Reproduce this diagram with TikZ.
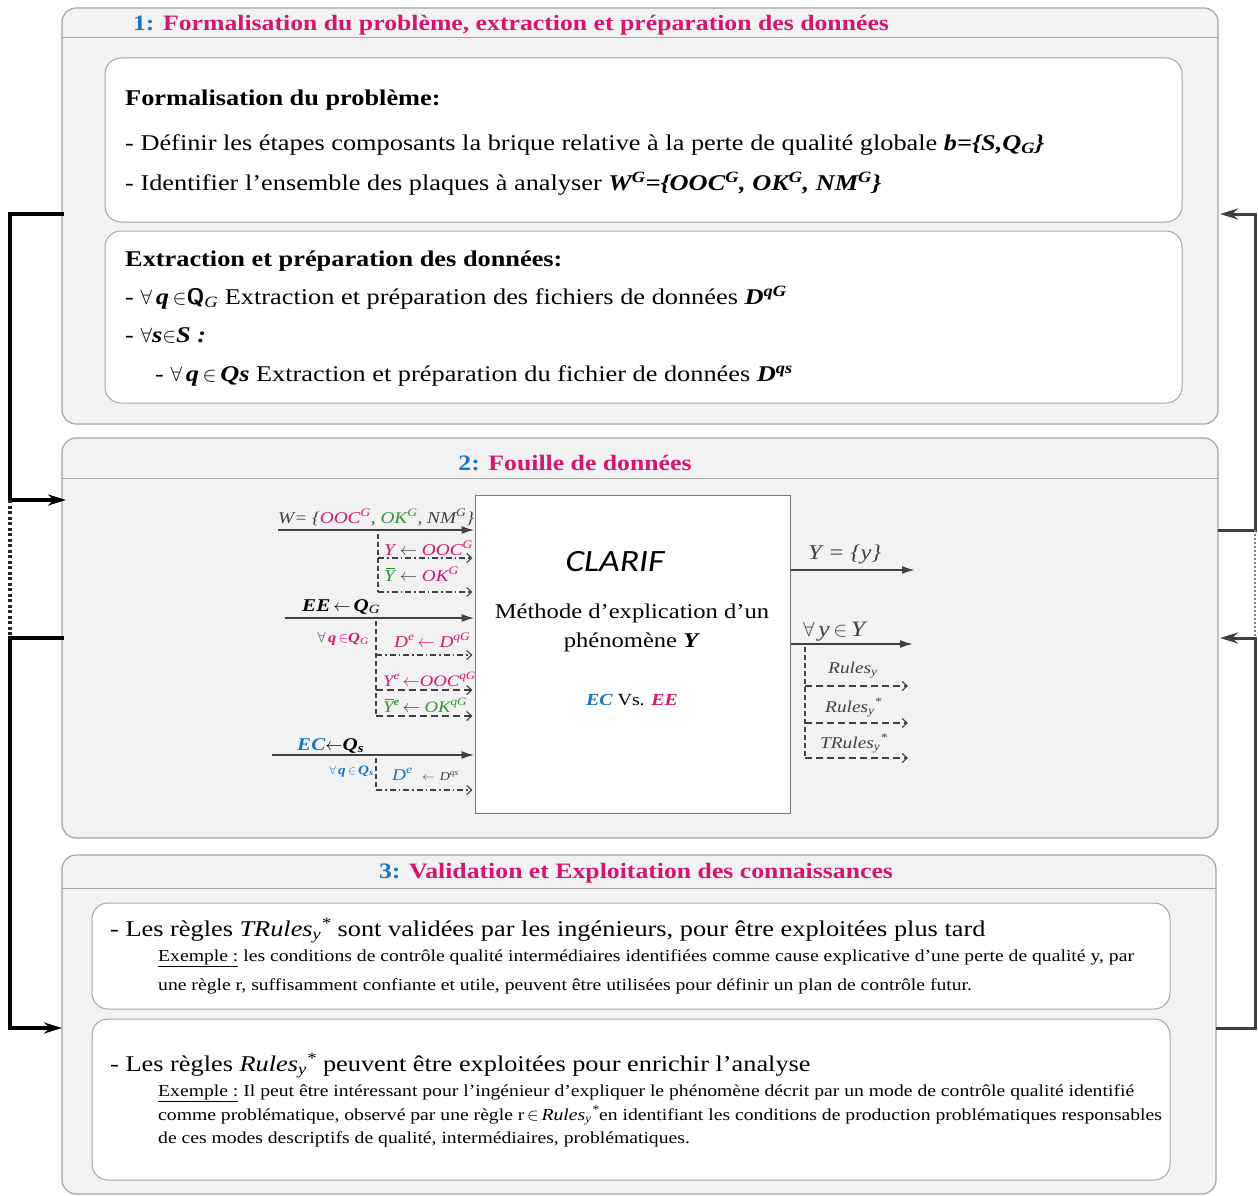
\documentclass[tikz,border=0pt]{standalone}
\usepackage{fontspec}
\setmainfont{Liberation Serif}[FakeStretch=1.17]
\newfontfamily\clariffont{Carlito}[FakeStretch=1.15]
\usetikzlibrary{arrows.meta}
\definecolor{rose}{RGB}{214,22,110}
\definecolor{bleu}{RGB}{28,117,196}
\definecolor{vert}{RGB}{48,150,48}
\definecolor{fond}{RGB}{242,242,242}
\definecolor{bord}{RGB}{165,165,165}
\definecolor{trait}{RGB}{64,64,64}
\newcommand{\pourtout}{$\forall$}
\newcommand{\dans}{$\in$}
\newcommand{\recoit}{$\leftarrow$}
\newcommand{\ybarre}{\leavevmode\rlap{\hspace{0.12em}\raisebox{0.74em}{\rule{0.55em}{0.07em}}}\textit{Y}}
\newcommand{\expo}[1]{\textsuperscript{#1}}
\newcommand{\indice}[1]{\textsubscript{#1}}
\newcommand{\indexpo}[2]{\textsubscript{#1}\textsuperscript{#2}}

\begin{document}
\begin{tikzpicture}[x=1pt,y=-1pt,
  panneau/.style={fill=fond,draw=bord,line width=1.2pt,rounded corners=14pt},
  cadre/.style={fill=white,draw=bord,line width=1pt,rounded corners=16pt},
  entete/.style={draw=bord,line width=1pt},
  titre/.style={anchor=base,inner sep=0pt,font=\fontsize{22}{26}\selectfont\bfseries,text=rose},
  texte/.style={anchor=base west,inner sep=0pt,font=\fontsize{22.5}{26}\selectfont},
  grand/.style={anchor=base west,inner sep=0pt,font=\fontsize{22.5}{26}\selectfont},
  petit/.style={anchor=base west,inner sep=0pt,font=\fontsize{16.8}{20}\selectfont},
  etiq/.style={anchor=base west,inner sep=0pt,font=\fontsize{16.5}{20}\selectfont\itshape,text=trait},
  flux/.style={draw=trait,line width=2pt,-{Latex[length=13pt,width=8pt]}},
  branche/.style={draw=trait,line width=1.1pt,dash pattern=on 5pt off 3pt},
  pointille/.style={draw=trait,line width=1.1pt,dash pattern=on 6pt off 3pt on 1.5pt off 3pt,-{Straight Barb[length=5pt,width=9pt]},shorten >=2pt},
  tiret/.style={draw=trait,line width=1.1pt,dash pattern=on 7pt off 4pt,-{Straight Barb[length=5pt,width=9pt]},shorten >=2pt},
  retour/.style={line width=3.5pt,-{Stealth[length=18pt,width=11pt]}},
  liaison/.style={draw=black!85,line width=3.5pt,dash pattern=on 3pt off 2.5pt},
]
\useasboundingbox (0,0) rectangle (1258,1196);
\clip (0,0) rectangle (1258,1196);

\draw[panneau] (62,8) rectangle (1218,424);
\draw[entete] (62,38) -- (1218,38);
\node[titre] (t1) at (511,31) {\textcolor{bleu}{1:} Formalisation du problème, extraction et préparation des données};
\draw[cadre] (105,58) rectangle (1182,222);
\node[texte,font=\fontsize{22.5}{26}\selectfont\bfseries] (fa) at (125,106) {Formalisation du problème:};
\node[texte] (fb) at (125,150) {- Définir les étapes composants la brique relative à la perte de qualité globale \textbf{\textit{b=\{S,Q\indice{G}\}}}};
\node[texte] (fc) at (125,190) {- Identifier l’ensemble des plaques à analyser \textbf{\textit{W\expo{G}=\{OOC\expo{G}, OK\expo{G}, NM\expo{G}\}}}};
\draw[cadre] (105,231) rectangle (1182,403);
\node[texte,font=\fontsize{22.5}{26}\selectfont\bfseries] (ea) at (125,266) {Extraction et préparation des données:};
\node[texte] (eb) at (125,304) {- \pourtout\,\textbf{\textit{q}}\,\dans\textbf{\textsf{Q}}\indice{\textit{G}} Extraction et préparation des fichiers de données \textbf{\textit{D\expo{qG}}}};
\node[texte] (ec) at (125,342) {- \pourtout\textbf{\textit{s}}\dans\textbf{\textit{S :}}};
\node[texte] (ed) at (155,381) {- \pourtout\,\textbf{\textit{q}}\,\dans\,\textbf{\textit{Qs}} Extraction et préparation du fichier de données \textbf{\textit{D\expo{qs}}}};

\draw[panneau] (62,438) rectangle (1218,838);
\draw[entete] (62,478) -- (1218,478);
\node[titre] (t2) at (575,470) {\textcolor{bleu}{2:} Fouille de données};
\node[draw=trait!70,fill=white,line width=1pt,minimum width=315pt,minimum height=318pt,inner sep=0pt] (clarif) at (632.5,654) {};
\node[anchor=base,font=\fontsize{31}{36}\selectfont\clariffont\itshape] (nom) at (615,571) {CLARIF};
\node[anchor=base,font=\fontsize{21}{25}\selectfont] (meth1) at (632,618) {Méthode d’explication d’un};
\node[anchor=base,font=\fontsize{21}{25}\selectfont] (meth2) at (632,647) {phénomène \textbf{\textit{Y}}};
\node[anchor=base,font=\fontsize{17}{21}\selectfont] (vs) at (632,705) {\textbf{\textit{\textcolor{bleu}{EC}}} Vs. \textbf{\textit{\textcolor{rose}{EE}}}};

\coordinate (w0) at (278,530);
\draw[flux] (w0) -- (w0 -| clarif.west);
\node[etiq] (lw) at (278,523) {W= \{\textcolor{rose}{OOC\expo{G}}, \textcolor{vert}{OK\expo{G}}, NM\expo{G}\}};
\coordinate (b1) at (378,534);
\coordinate (r1) at (378,558);
\coordinate (r2) at (378,592);
\draw[branche] (b1) -- (r2);
\draw[pointille] (r1) -- (r1 -| clarif.west);
\draw[pointille] (r2) -- (r2 -| clarif.west);
\node[etiq] (l1) at (384,555) {\textcolor{rose}{Y} \recoit\ \textcolor{rose}{OOC\expo{G}}};
\node[etiq] (l2) at (384,581) {\textcolor{vert}{\ybarre} \recoit\ \textcolor{rose}{OK\expo{G}}};

\coordinate (ee0) at (285,618);
\draw[flux] (ee0) -- (ee0 -| clarif.west);
\node[etiq,font=\fontsize{18}{22}\selectfont\bfseries\itshape] (lee) at (302,611) {\textcolor{black}{EE\,\recoit\,Q\indice{\mdseries G}}};
\coordinate (b2) at (376,621);
\coordinate (r3) at (376,655);
\coordinate (r4) at (376,690);
\coordinate (r5) at (376,716);
\draw[branche] (b2) -- (r5);
\draw[pointille] (r3) -- (r3 -| clarif.west);
\draw[tiret] (r4) -- (r4 -| clarif.west);
\draw[tiret] (r5) -- (r5 -| clarif.west);
\node[etiq,anchor=base east,font=\fontsize{14}{17}\selectfont\itshape] (lq1) at (369,642) {\pourtout\,\textcolor{rose}{\textbf{q}\,\dans\textbf{Q}\indice{G}}};
\node[etiq] (l3) at (394,647) {\textcolor{rose}{D\expo{e}\,\recoit\ D\expo{qG}}};
\node[etiq,font=\fontsize{16}{19}\selectfont\itshape] (l4) at (383,686) {\textcolor{rose}{Y\expo{e}\,\recoit OOC\expo{qG}}};
\node[etiq,font=\fontsize{16}{19}\selectfont\itshape] (l5) at (383,712) {\textcolor{vert}{\ybarre\expo{\textbf{e}}}\,\recoit\ \textcolor{vert}{OK\expo{qG}}};

\coordinate (ec0) at (272,755);
\draw[flux] (ec0) -- (ec0 -| clarif.west);
\node[etiq,font=\fontsize{18}{22}\selectfont\bfseries\itshape] (lec) at (297,750) {\textcolor{bleu}{EC}\textcolor{black}{\recoit Q\indice{s}}};
\coordinate (b3) at (376,758);
\coordinate (r6) at (376,790);
\draw[branche] (b3) -- (r6);
\draw[pointille] (r6) -- (r6 -| clarif.west);
\node[etiq,anchor=base east,font=\fontsize{13}{16}\selectfont\itshape\bfseries,text=bleu] (lq2) at (374,774) {{\mdseries\pourtout}\,q\,\dans\,Q\indice{s}};
\node[etiq] (l6) at (392,780) {\textcolor{bleu}{D\expo{e}}\ \ {\fontsize{12}{14}\selectfont\recoit\ \,D\expo{qs}}};

\coordinate (y0) at (915,570);
\coordinate (y1) at (913,644);
\draw[flux] (clarif.east |- y0) -- (y0);
\draw[flux] (clarif.east |- y1) -- (y1);
\node[etiq,font=\fontsize{21}{24}\selectfont\itshape] (ly0) at (808,559) {Y = \{y\}};
\node[etiq,font=\fontsize{22}{24}\selectfont\itshape] (ly1) at (803,636) {\pourtout\,y\,\dans\,Y};
\coordinate (b4) at (805,647);
\coordinate (r7) at (805,686);
\coordinate (r8) at (805,723);
\coordinate (r9) at (805,758);
\coordinate (fin) at (910,0);
\draw[branche] (b4) -- (r9);
\draw[tiret] (r7) -- (r7 -| fin);
\draw[tiret] (r8) -- (r8 -| fin);
\draw[tiret] (r9) -- (r9 -| fin);
\node[etiq,font=\fontsize{16.5}{19}\selectfont\itshape] (l7) at (828,673) {Rules\indice{y}};
\node[etiq,font=\fontsize{16.5}{19}\selectfont\itshape] (l8) at (825,712) {Rules\indexpo{y}{*}};
\node[etiq,font=\fontsize{16.5}{19}\selectfont\itshape] (l9) at (820,748) {TRules\indexpo{y}{*}};

\draw[panneau] (62,855) rectangle (1216,1194);
\draw[entete] (62,888) -- (1216,888);
\node[titre] (t3) at (636,878) {\textcolor{bleu}{3:} Validation et Exploitation des connaissances};
\draw[cadre] (92,903) rectangle (1170,1009);
\node[grand] (va) at (110,936) {- Les règles \textit{TRules\indexpo{y}{*}} sont validées par les ingénieurs, pour être exploitées plus tard};
\node[petit] (vb) at (158,961) {\underline{Exemple :} les conditions de contrôle qualité intermédiaires identifiées comme cause explicative d’une perte de qualité y, par};
\node[petit] (vc) at (158,990) {une règle r, suffisamment confiante et utile, peuvent être utilisées pour définir un plan de contrôle futur.};
\draw[cadre] (92,1019) rectangle (1170,1180);
\node[grand] (xa) at (110,1071) {- Les règles \textit{Rules\indexpo{y}{*}} peuvent être exploitées pour enrichir l’analyse};
\node[petit] (xb) at (158,1096) {\underline{Exemple :} Il peut être intéressant pour l’ingénieur d’expliquer le phénomène décrit par un mode de contrôle qualité identifié};
\node[petit] (xc) at (158,1120) {comme problématique, observé par une règle r\,\dans\,\textit{Rules\indexpo{y}{*}}en identifiant les conditions de production problématiques responsables};
\node[petit] (xd) at (158,1143) {de ces modes descriptifs de qualité, intermédiaires, problématiques.};

\coordinate (s1g) at (64,214);
\coordinate (e2g) at (66,500);
\coordinate (s2g) at (64,638);
\coordinate (e3g) at (62,1028);
\coordinate (bordg) at (10,0);
\draw[retour] (s1g) -- (s1g -| bordg) |- (e2g);
\draw[retour] (s2g) -- (s2g -| bordg) |- (e3g);
\draw[liaison] (e2g -| bordg) -- (s2g -| bordg);
\coordinate (s2d) at (1218,530);
\coordinate (e1d) at (1220,214);
\coordinate (s3d) at (1216,1028);
\coordinate (e2d) at (1220,638);
\coordinate (bordd) at (1255,0);
\draw[retour,draw=trait,line width=3pt] (s2d) -- (s2d -| bordd) |- (e1d);
\draw[retour,draw=trait,line width=3pt] (s3d) -- (s3d -| bordd) |- (e2d);
\draw[draw=gray,line width=1.2pt,dash pattern=on 2pt off 2pt] (s2d -| bordd) -- (e2d -| bordd);
\end{tikzpicture}
\end{document}
